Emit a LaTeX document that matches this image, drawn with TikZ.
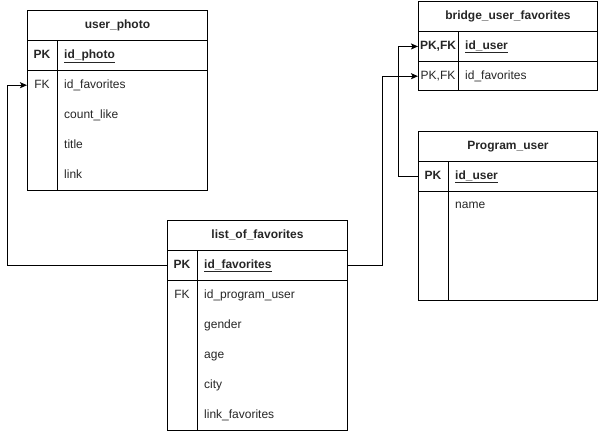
\documentclass[tikz,border=0pt]{standalone}
\usepackage{fontspec}
\setmainfont{Liberation Sans}
\usetikzlibrary{arrows.meta}
\begin{document}
\begin{tikzpicture}[x=1pt,y=-1pt,
  every node/.style={font=\fontsize{12pt}{14pt}\selectfont, inner sep=0pt, text=black!85},
  txt/.style={text height=8.6pt, text depth=2.6pt},
  tbox/.style={draw, line width=0.9pt, rectangle, anchor=north west, minimum width=#1},
  thead/.style={txt, draw, line width=0.9pt, rectangle, anchor=north west, minimum width=#1, minimum height=30, font=\fontsize{12pt}{14pt}\selectfont\bfseries},
  trow/.style={draw, line width=0.9pt, rectangle, anchor=north west, minimum width=#1, minimum height=30},
  hrow/.style={rectangle, anchor=north west, minimum width=#1, minimum height=30},
  keyb/.style={txt, font=\fontsize{12pt}{14pt}\selectfont\bfseries},
  key/.style={txt},
  fldb/.style={txt, anchor=west, font=\fontsize{12pt}{14pt}\selectfont\bfseries},
  fld/.style={txt, anchor=west},
  div/.style={line width=0.9pt},
  conn/.style={line width=0.9pt, -{Stealth[length=7pt,width=6pt,inset=1.5pt]}}
]
\useasboundingbox (0,0) rectangle (598,431);

% ---------- user_photo ----------
\node[tbox=180, minimum height=180] (up) at (27,10) {};
\node[thead=180] (uph) at (27,10) {user\_photo};
\node[trow=180] (uppk) at (27,40) {};
\node[hrow=180] (upfk) at (27,70) {};
\draw[div] (57,40) -- (57,190);
\node[keyb] (upk1) at (42,55) {PK};
\node[fldb] (upf1) at (64,55) {\underline{id\_photo}};
\node[key] (upk2) at (42,85) {FK};
\node[fld] (upf2) at (64,85) {id\_favorites};
\node[fld] (upf3) at (64,115) {count\_like};
\node[fld] (upf4) at (64,145) {title};
\node[fld] (upf5) at (64,175) {link};

% ---------- bridge_user_favorites ----------
\node[tbox=179, minimum height=89] (bf) at (418,1) {};
\node[thead=179] (bfh) at (418,1) {bridge\_user\_favorites};
\node[trow=179] (bfpk) at (418,31) {};
\node[hrow=179] (bffk) at (418,61) {};
\draw[div] (458,31) -- (458,90);
\node[keyb] (bfk1) at (438,46) {PK,FK};
\node[fldb] (bff1) at (465,46) {\underline{id\_user}};
\node[key] (bfk2) at (438,76) {PK,FK};
\node[fld] (bff2) at (465,76) {id\_favorites};

% ---------- Program_user ----------
\node[tbox=179, minimum height=169] (pu) at (418,131) {};
\node[thead=179] (puh) at (418,131) {Program\_user};
\node[trow=179] (pupk) at (418,161) {};
\draw[div] (448,161) -- (448,300);
\node[keyb] (puk1) at (433,176) {PK};
\node[fldb] (puf1) at (455,176) {\underline{id\_user}};
\node[fld] (puf2) at (455,205) {name};

% ---------- list_of_favorites ----------
\node[tbox=180, minimum height=210] (lf) at (167,220) {};
\node[thead=180] (lfh) at (167,220) {list\_of\_favorites};
\node[trow=180] (lfpk) at (167,250) {};
\draw[div] (197,250) -- (197,430);
\node[keyb] (lfk1) at (182,265) {PK};
\node[fldb] (lff1) at (204,265) {\underline{id\_favorites}};
\node[key] (lfk2) at (182,295) {FK};
\node[fld] (lff2) at (204,295) {id\_program\_user};
\node[fld] (lff3) at (204,325) {gender};
\node[fld] (lff4) at (204,355) {age};
\node[fld] (lff5) at (204,385) {city};
\node[fld] (lff6) at (204,415) {link\_favorites};

% ---------- connectors ----------
\draw[conn] (lfpk.west) -| ([xshift=-20pt]upfk.west) -- (upfk.west);
\draw[conn] (lfpk.east) -| ([xshift=-36pt]bffk.west) -- (bffk.west);
\draw[conn] (pupk.west) -| ([xshift=-20pt]bfpk.west) -- (bfpk.west);
\end{tikzpicture}
\end{document}
